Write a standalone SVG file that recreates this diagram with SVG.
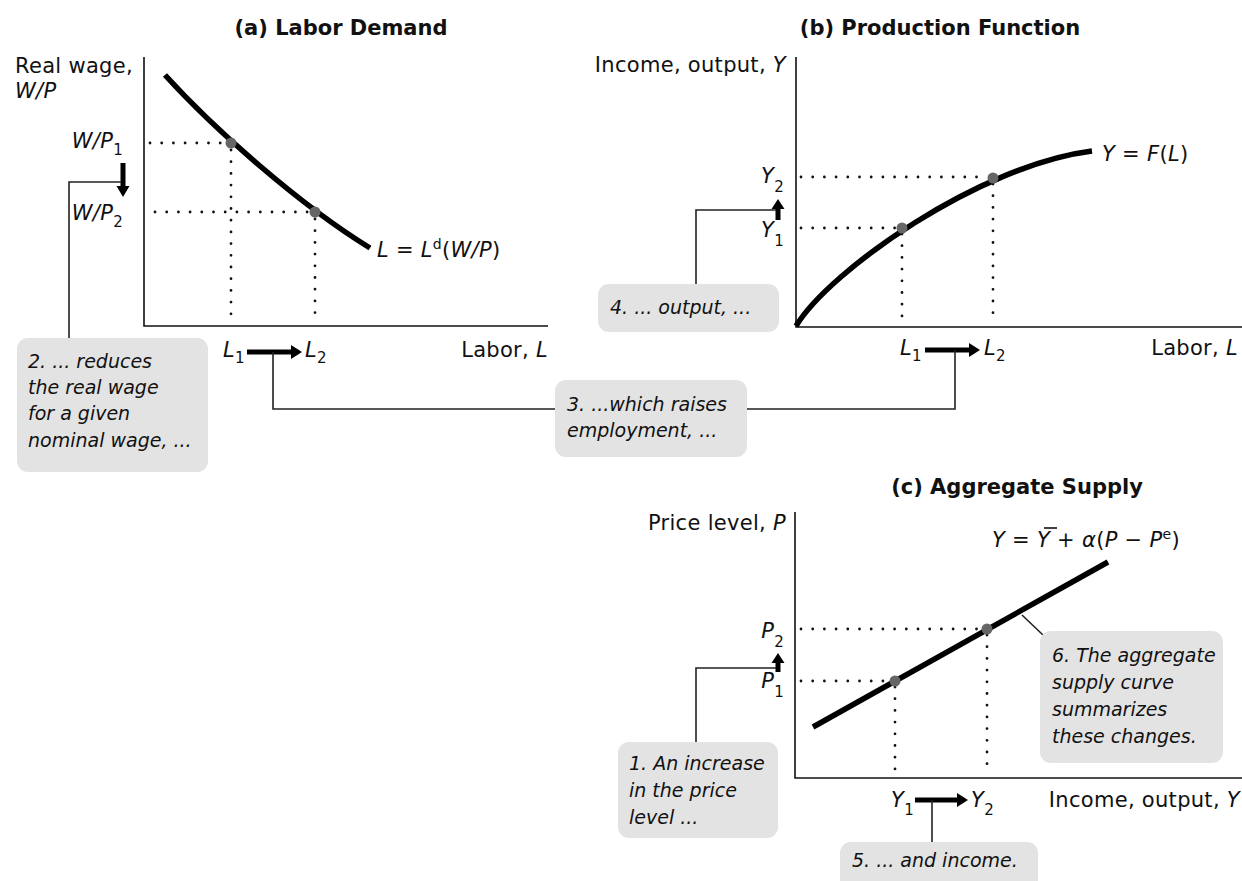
<svg xmlns="http://www.w3.org/2000/svg" width="1242" height="881" viewBox="0 0 1242 881">
<style>
text{font-family:"DejaVu Sans","Liberation Sans",sans-serif;fill:#111}
.title{font-size:21px;font-weight:bold;text-anchor:middle}
.lab{font-size:21px;letter-spacing:0.3px}
.it{font-style:italic}
.sub{font-size:15px;font-style:normal}
.box{font-size:19px;font-style:italic}
.axis{stroke:#111;stroke-width:1.6;fill:none}
.curve{stroke:#000;stroke-width:5.5;fill:none}
.dot{stroke:#111;stroke-width:2.8;stroke-linecap:round;stroke-dasharray:0 11.7;fill:none}
.pt{fill:#666}
.conn{stroke:#222;stroke-width:1.6;fill:none}
.arr{fill:#000}
.bx{fill:#e3e3e3}
</style>

<g id="titles">
<text class="title" x="341" y="35">(a) Labor Demand</text>
<text class="title" x="940" y="35">(b) Production Function</text>
<text class="title" x="1017" y="494">(c) Aggregate Supply</text>
</g>

<g id="panel-a">
<path class="axis" d="M144,57 V326 H548"/>
<path class="curve" d="M165,75 C215,130 300,205 370,248"/>
<path class="dot" d="M150,143 H226 M155,212 H310 M231,150 V320 M315,219 V320"/>
<circle class="pt" cx="231" cy="143" r="5.5"/>
<circle class="pt" cx="315" cy="212" r="5.5"/>
<text class="lab" x="15" y="73">Real wage,</text>
<text class="lab it" x="15" y="98">W/P</text>
<text class="lab" x="123" y="148" text-anchor="end"><tspan class="it">W/P</tspan><tspan class="sub" dy="7">1</tspan></text>
<text class="lab" x="123" y="220" text-anchor="end"><tspan class="it">W/P</tspan><tspan class="sub" dy="7">2</tspan></text>
<text class="lab" x="377" y="257"><tspan class="it">L</tspan> = <tspan class="it">L</tspan><tspan font-size="14" dy="-8">d</tspan><tspan dy="8">(</tspan><tspan class="it">W/P</tspan>)</text>
<text class="lab" x="223" y="357"><tspan class="it">L</tspan><tspan class="sub" dy="6">1</tspan></text>
<text class="lab" x="305" y="357"><tspan class="it">L</tspan><tspan class="sub" dy="6">2</tspan></text>
<text class="lab" x="548" y="357" text-anchor="end">Labor, <tspan class="it">L</tspan></text>
<path class="arr" d="M120.5,163 H125.5 V186 H129.5 L123,197 L116.5,186 H120.5 Z"/>
<path class="arr" d="M247,349.5 H291 V345 L302,352 L291,359 V354.5 H247 Z"/>
</g>

<g id="panel-b">
<path class="axis" d="M796,57 V327 H1242"/>
<path class="curve" d="M796,326 C830,270 980,165 1092,151"/>
<path class="dot" d="M801,177 H988 M801,228 H897 M902,234 V320 M993,184 V320"/>
<circle class="pt" cx="902" cy="228" r="5.5"/>
<circle class="pt" cx="993" cy="178" r="5.5"/>
<text class="lab" x="786" y="72" text-anchor="end">Income, output, <tspan class="it">Y</tspan></text>
<text class="lab" x="784" y="183" text-anchor="end"><tspan class="it">Y</tspan><tspan class="sub" dy="9">2</tspan></text>
<text class="lab" x="784" y="237" text-anchor="end"><tspan class="it">Y</tspan><tspan class="sub" dy="9">1</tspan></text>
<text class="lab" x="1102" y="161"><tspan class="it">Y</tspan> = <tspan class="it">F</tspan>(<tspan class="it">L</tspan>)</text>
<text class="lab" x="900" y="355"><tspan class="it">L</tspan><tspan class="sub" dy="6">1</tspan></text>
<text class="lab" x="984" y="355"><tspan class="it">L</tspan><tspan class="sub" dy="6">2</tspan></text>
<text class="lab" x="1238" y="355" text-anchor="end">Labor, <tspan class="it">L</tspan></text>
<path class="arr" d="M775.5,220 V209 H771.5 L778,199 L784.5,209 H780.5 V220 Z"/>
<path class="arr" d="M925,347.5 H969 V343 L980,350 L969,357 V352.5 H925 Z"/>
</g>

<g id="panel-c">
<path class="axis" d="M795,512 V778 H1242"/>
<path class="curve" d="M813,727 L1108,562" stroke-width="6"/>
<path class="dot" d="M801,629 H982 M801,681 H890 M895,687 V770 M987,635 V770"/>
<circle class="pt" cx="895" cy="681" r="5.5"/>
<circle class="pt" cx="987" cy="629" r="5.5"/>
<text class="lab" x="786" y="530" text-anchor="end">Price level, <tspan class="it">P</tspan></text>
<text class="lab" x="992" y="547" letter-spacing="1"><tspan class="it">Y</tspan> = <tspan class="it">Y</tspan> + <tspan class="it">α</tspan>(<tspan class="it">P</tspan> − <tspan class="it">P</tspan><tspan font-size="14" dy="-8">e</tspan><tspan dy="8">)</tspan></text>
<path d="M1044,528 H1057" stroke="#111" stroke-width="1.6"/>
<text class="lab" x="784" y="638" text-anchor="end"><tspan class="it">P</tspan><tspan class="sub" dy="9">2</tspan></text>
<text class="lab" x="784" y="688" text-anchor="end"><tspan class="it">P</tspan><tspan class="sub" dy="9">1</tspan></text>
<text class="lab" x="891" y="807"><tspan class="it">Y</tspan><tspan class="sub" dy="8">1</tspan></text>
<text class="lab" x="971" y="807"><tspan class="it">Y</tspan><tspan class="sub" dy="8">2</tspan></text>
<text class="lab" x="1240" y="807" text-anchor="end">Income, output, <tspan class="it">Y</tspan></text>
<path class="arr" d="M775.5,672 V663 H771.5 L778,653 L784.5,663 H780.5 V672 Z"/>
<path class="arr" d="M915,797.5 H957 V793 L968,800 L957,807 V802.5 H915 Z"/>
</g>

<g id="connectors">
<path class="conn" d="M69,338 V182 H121"/>
<path class="conn" d="M273,352 V409 H555"/>
<path class="conn" d="M747,409 H955 V350"/>
<path class="conn" d="M696,284 V210 H776"/>
<path class="conn" d="M696,742 V668 H776"/>
<path class="conn" d="M932,800 V842"/>
<path class="conn" d="M1022,615 L1043,635"/>
</g>

<g id="note-1">
<rect class="bx" x="618" y="742" width="160" height="96" rx="11"/>
<text class="box" x="629" y="770">1. An increase</text>
<text class="box" x="629" y="797">in the price</text>
<text class="box" x="629" y="824">level ...</text>
</g>
<g id="note-2">
<rect class="bx" x="17" y="338" width="191" height="134" rx="11"/>
<text class="box" x="28" y="368">2. ... reduces</text>
<text class="box" x="28" y="394">the real wage</text>
<text class="box" x="28" y="420">for a given</text>
<text class="box" x="28" y="447">nominal wage, ...</text>
</g>
<g id="note-3">
<rect class="bx" x="555" y="380" width="192" height="77" rx="11"/>
<text class="box" x="567" y="411">3. ...which raises</text>
<text class="box" x="567" y="437">employment, ...</text>
</g>
<g id="note-4">
<rect class="bx" x="598" y="284" width="181" height="48" rx="11"/>
<text class="box" x="610" y="314">4. ... output, ...</text>
</g>
<g id="note-5">
<rect class="bx" x="840" y="842" width="198" height="50" rx="11"/>
<text class="box" x="852" y="867">5. ... and income.</text>
</g>
<g id="note-6">
<rect class="bx" x="1040" y="631" width="183" height="132" rx="11"/>
<text class="box" x="1052" y="662">6. The aggregate</text>
<text class="box" x="1052" y="689">supply curve</text>
<text class="box" x="1052" y="716">summarizes</text>
<text class="box" x="1052" y="743">these changes.</text>
</g>
</svg>
